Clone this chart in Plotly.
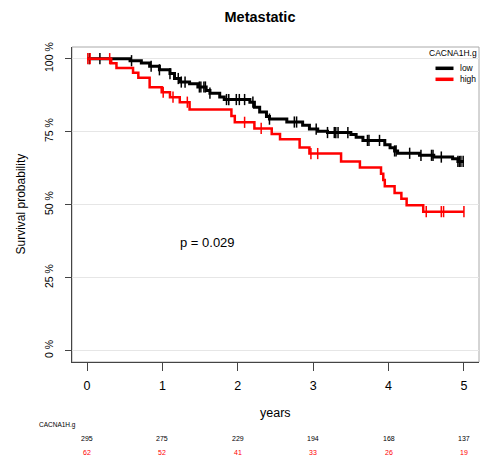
import numpy as np
import plotly.graph_objects as go

# ---- data ----
group_title = "CACNA1H.g"
group_names = ["low", "high"]

low_times = [0, 0.57, 0.72, 0.83, 0.96, 1.10, 1.16, 1.23, 1.36, 1.47, 1.58, 1.63, 1.76, 1.82,
             2.16, 2.22, 2.29, 2.38, 2.42, 2.65, 2.86, 2.95, 3.06, 3.19, 3.50, 3.57, 3.66,
             3.95, 4.02, 4.08, 4.12, 4.41, 4.60, 4.85, 4.92, 5.0]
low_surv = [100, 99.3, 98.5, 97.4, 96.2, 94.9, 93.2, 92.0, 91.4, 90.3, 89.1, 88.2, 86.9, 86.0,
            85.1, 83.4, 81.7, 80.2, 79.3, 78.3, 77.2, 75.9, 75.1, 74.7, 74.0, 73.1, 72.0,
            70.5, 69.5, 68.4, 67.6, 66.9, 66.3, 65.7, 64.8, 64.8]
low_censor = [0.03, 0.17, 0.59, 0.85, 0.96, 1.10, 1.21, 1.25, 1.30, 1.49, 1.51, 1.55, 1.57, 1.63,
              1.85, 1.88, 1.98, 2.02, 2.09, 2.20, 2.42, 2.75, 2.78, 3.04, 3.19, 3.28, 3.30,
              3.33, 3.46, 3.72, 3.74, 3.88, 4.08, 4.10, 4.28, 4.43, 4.57, 4.59, 4.70, 4.92,
              4.94, 4.96, 4.99]

high_times = [0, 0.32, 0.39, 0.61, 0.68, 0.83, 0.99, 1.10, 1.23, 1.36, 1.915, 1.96, 2.22, 2.45,
              2.56, 2.82, 2.95, 3.37, 3.62, 3.90, 3.93, 3.95, 4.08, 4.17, 4.24, 4.46, 5.0]
high_surv = [100, 98.4, 96.8, 95.2, 93.5, 90.2, 88.5, 86.8, 85.1, 82.6, 80.4, 78.2, 76.1, 74.2,
             72.4, 69.6, 67.5, 64.8, 62.7, 60.6, 58.4, 56.3, 54.0, 52.0, 49.8, 47.6, 47.6]
high_censor = [0.01, 0.04, 0.30, 1.01, 1.14, 1.33, 2.09, 2.31, 2.97, 3.06, 4.50, 4.70, 4.73, 5.0]

risk_times = [0, 1, 2, 3, 4, 5]
risk_low = [295, 275, 229, 194, 168, 137]
risk_high = [62, 52, 41, 33, 26, 19]

p_text = "p = 0.029"
y_ticks = [0, 25, 50, 75, 100]
y_ticklabels = ["0 %", "25 %", "50 %", "75 %", "100 %"]
x_ticks = [0, 1, 2, 3, 4, 5]

colors = ["#000000", "#FF0000"]


def censor_y(times, surv, cens):
    t = np.asarray(times)
    s = np.asarray(surv)
    idx = np.searchsorted(t, np.asarray(cens), side="right") - 1
    return s[np.clip(idx, 0, len(s) - 1)]


fig = go.Figure()
series = [(low_times, low_surv, low_censor, 3.0), (high_times, high_surv, high_censor, 2.5)]
for (t, s, c, lw), col, name in zip(series, colors, group_names):
    fig.add_trace(go.Scatter(x=t, y=s, mode="lines", line=dict(color=col, width=lw, shape="hv"),
                             name=name, showlegend=False, hoverinfo="skip"))
    fig.add_trace(go.Scatter(x=c, y=censor_y(t, s, c), mode="markers",
                             marker=dict(symbol="line-ns", size=8, color=col,
                                         line=dict(color=col, width=1.5)),
                             showlegend=False, hoverinfo="skip"))

# plot area geometry (px)
W, H = 487, 457
L, R, T, B = 72, 8, 47, 95
pw, ph = W - L - R, H - T - B


def px_x(px):
    return (px - L) / pw


def px_y(py):
    return (H - B - py) / ph


def ann(**kw):
    d = dict(showarrow=False, xanchor="center", yanchor="middle")
    d.update(kw)
    return d


annotations = []
annotations.append(ann(x=1.6, y=37.2, xref="x", yref="y", text=p_text,
                       font=dict(size=13, color="#000000")))
annotations.append(ann(x=px_x(20), y=0.5, xref="paper", yref="paper", text="Survival probability",
                       textangle=-90, font=dict(size=12, color="#000000")))
annotations.append(ann(x=0.5, y=px_y(413), xref="paper", yref="paper", text="years",
                       font=dict(size=12.5, color="#000000")))
annotations.append(ann(x=px_x(37), y=px_y(425), xref="paper", yref="paper", text=group_title,
                       xanchor="left", font=dict(size=6.5, color="#000000")))
for t, a, b in zip(risk_times, risk_low, risk_high):
    annotations.append(ann(x=t, y=px_y(438), xref="x", yref="paper", text=str(a),
                           font=dict(size=7, color=colors[0])))
    annotations.append(ann(x=t, y=px_y(453), xref="x", yref="paper", text=str(b),
                           font=dict(size=7, color=colors[1])))

# legend (drawn manually to match)
annotations.append(ann(x=px_x(478.5), y=px_y(52.7), xref="paper", yref="paper", text=group_title,
                       xanchor="right", font=dict(size=8.5, color="#000000")))
shapes = []
for name, col, py in zip(group_names, colors, [68.3, 79.3]):
    annotations.append(ann(x=px_x(458), y=px_y(py), xref="paper", yref="paper", text=name,
                           xanchor="left", font=dict(size=8.5, color="#000000")))
    shapes.append(dict(type="line", xref="paper", yref="paper", x0=px_x(435.5), x1=px_x(453.5),
                       y0=px_y(py), y1=px_y(py), line=dict(color=col, width=3.5)))

shapes.append(dict(type="rect", xref="paper", yref="paper", x0=0, x1=1, y0=0, y1=1,
                   line=dict(color="#AAAAAA", width=1), layer="below"))

fig.update_layout(
    width=W, height=H,
    margin=dict(l=L, r=R, t=T, b=B),
    paper_bgcolor="white", plot_bgcolor="white",
    font=dict(family="Liberation Sans, Arial, sans-serif", color="#000000"),
    title=dict(text="<b>Metastatic</b>", x=260 / W, y=1 - 16.7 / H, xanchor="center",
               yanchor="middle", font=dict(size=14.5, color="#000000")),
    xaxis=dict(range=[-0.2, 5.2], tickvals=x_ticks, showgrid=False, zeroline=False,
               showline=True, linecolor="#444444", linewidth=1, ticks="outside", ticklen=8,
               tickcolor="#444444", tickfont=dict(size=12.5, color="#000000"),
               ticklabelstandoff=4),
    yaxis=dict(range=[-3.9, 104], tickvals=y_ticks, ticktext=y_ticklabels, showgrid=True,
               gridcolor="#E6E6E6", gridwidth=1, zeroline=False, showline=True,
               linecolor="#444444", linewidth=1, ticks="outside", ticklen=6,
               tickcolor="#444444", tickangle=-90, tickfont=dict(size=10.5, color="#000000"),
               ticklabelstandoff=8),
    annotations=annotations,
    shapes=shapes,
    showlegend=False,
)

fig.write_html("out.html")
